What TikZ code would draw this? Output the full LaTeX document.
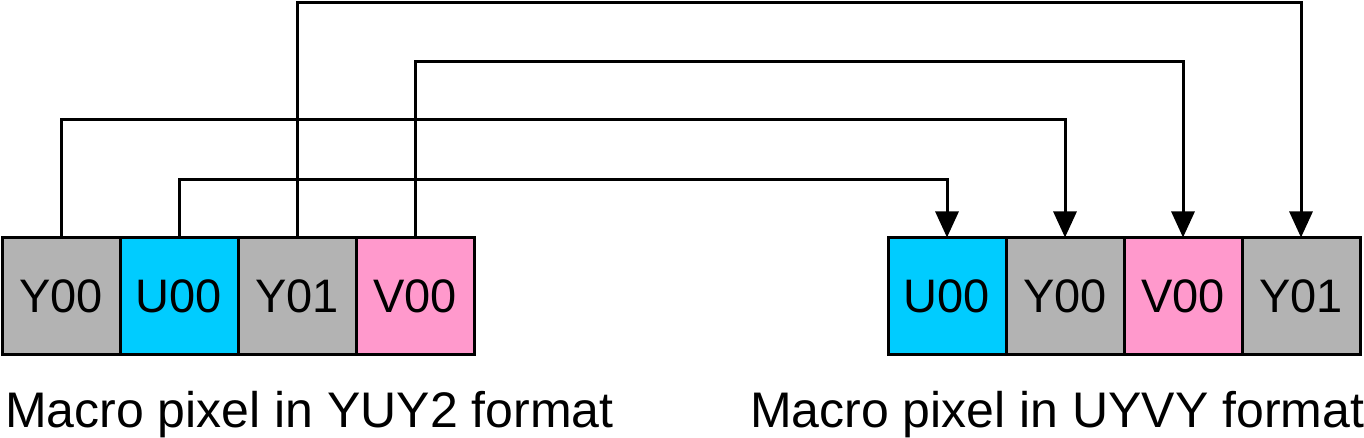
\documentclass[tikz,border=0pt]{standalone}
\usepackage{fontspec}
\setmainfont{Liberation Sans}
\usetikzlibrary{arrows.meta}

\tikzset{
  cell/.style={draw=black, line width=3pt, minimum width=118pt, minimum height=117pt,
    inner sep=0pt, outer sep=0pt, font=\fontsize{47}{50}\selectfont},
  ycell/.style={cell, fill=ygray},
  ucell/.style={cell, fill=ucyan},
  vcell/.style={cell, fill=vpink},
  link/.style={line width=3pt, -{Triangle[width=23pt,length=26pt]}},
  caption/.style={anchor=base west, inner sep=0pt, font=\fontsize{50}{54}\selectfont}
}
\definecolor{ygray}{HTML}{B3B3B3}
\definecolor{ucyan}{HTML}{00CCFF}
\definecolor{vpink}{HTML}{FF99CC}

\begin{document}
\begin{tikzpicture}[x=1pt, y=-1pt]

  \useasboundingbox (0,0) rectangle (1364,438);

  % YUY2 macro pixel (left)
  \node[ycell] (lY0) at (61,296)  {Y00};
  \node[ucell] (lU0) at (179,296) {U00};
  \node[ycell] (lY1) at (297,296) {Y01};
  \node[vcell] (lV0) at (415,296) {V00};

  % UYVY macro pixel (right)
  \node[ucell] (rU0) at (947,296)  {U00};
  \node[ycell] (rY0) at (1065,296) {Y00};
  \node[vcell] (rV0) at (1183,296) {V00};
  \node[ycell] (rY1) at (1301,296) {Y01};

  % reordering links, each on its own level
  \draw[link] (lY0.north) -- (lY0.north |- 0,120) -- (rY0.north |- 0,120) -- (rY0.north);
  \draw[link] (lU0.north) -- (lU0.north |- 0,180) -- (rU0.north |- 0,180) -- (rU0.north);
  \draw[link] (lY1.north) -- (lY1.north |- 0,3)   -- (rY1.north |- 0,3)   -- (rY1.north);
  \draw[link] (lV0.north) -- (lV0.north |- 0,62)  -- (rV0.north |- 0,62)  -- (rV0.north);

  % captions
  \node[caption] (capL) at (5,427)   {Macro pixel in YUY2 format};
  \node[caption] (capR) at (750,427) {Macro pixel in UYVY format};

\end{tikzpicture}
\end{document}
